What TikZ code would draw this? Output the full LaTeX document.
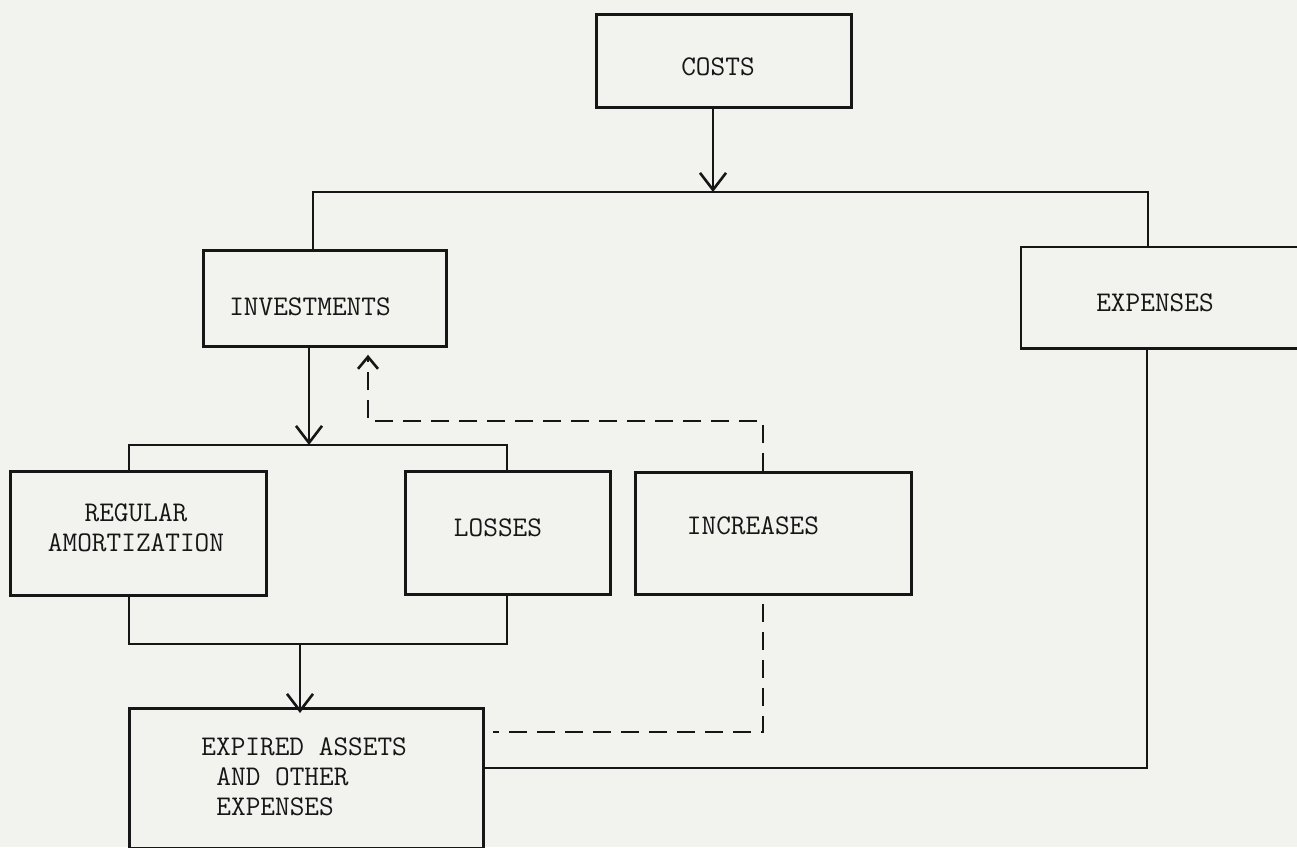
\documentclass[tikz,border=0pt]{standalone}
\usepackage{fontspec}
\usetikzlibrary{arrows.meta}
\definecolor{paper}{RGB}{242,242,239}
\definecolor{ink}{RGB}{22,22,22}
\begin{document}
\begin{tikzpicture}[x=1pt,y=-1pt, line width=2.8pt, color=ink,
  ln/.style={line width=2.8pt, draw=ink},
  box/.style={draw=ink, line width=2.8pt, inner sep=0pt, anchor=north west},
  openbox/.style={draw=none, inner sep=0pt, anchor=north west},
  lbl/.style={inner sep=0pt, text=ink, font=\ttfamily\fontsize{28.5}{30}\selectfont\addfontfeatures{FakeBold=1.1}},
  arr/.style={ln, -{Straight Barb[length=17pt,width=26pt,line width=2.6pt]}},
  darr/.style={ln, dash pattern=on 18pt off 10pt, -{Straight Barb[length=12pt,width=20pt,line width=2.6pt]}},
  dsh/.style={ln, dash pattern=on 18pt off 10pt}
]
\useasboundingbox (0,0) rectangle (1297,847);
\fill[paper] (0,0) rectangle (1297,847);

% boxes
\node[box, minimum width=255pt, minimum height=93pt] (costs) at (595,13) {};
\node[box, minimum width=243pt, minimum height=96pt] (inv) at (202,249) {};
\node[openbox, minimum width=282pt, minimum height=99pt] (exps) at (1021,247) {};
\draw[ln] (exps.north east) -- (exps.north west) -- (exps.south west) -- (exps.south east);
\node[box, minimum width=256pt, minimum height=124pt] (reg) at (9,470) {};
\node[box, minimum width=205pt, minimum height=123pt] (los) at (404,470) {};
\node[box, minimum width=276pt, minimum height=122pt] (inc) at (634,471) {};
\node[box, minimum width=354pt, minimum height=140pt] (expd) at (128,707) {};

% labels
\node[lbl] (costsT) at (718,67) {COSTS};
\node[lbl] (invT) at (310,307) {INVESTMENTS};
\node[lbl] (expsT) at (1155,303) {EXPENSES};
\node[lbl, align=center] (regT) at (136,528) {REGULAR\\AMORTIZATION};
\node[lbl] (losT) at (498,528) {LOSSES};
\node[lbl] (incT) at (753,526) {INCREASES};
\node[lbl, align=left, anchor=west] (expdT) at (200,777) {EXPIRED ASSETS\\\hspace*{15pt}AND OTHER\\\hspace*{15pt}EXPENSES};

% coordinates
\coordinate (b1L) at (313,192);
\coordinate (b1R) at (1148,192);
\coordinate (c1) at (713,192);
\coordinate (b2L) at (129,445);
\coordinate (b2R) at (507,445);
\coordinate (c2) at (309,445);
\coordinate (b3L) at (129,644);
\coordinate (b3R) at (507,644);
\coordinate (c3) at (300,644);
\coordinate (e1) at (1147,768);
\coordinate (d1) at (763,421);
\coordinate (d2) at (368,421);
\coordinate (d3) at (763,732);
\coordinate (d4) at (493,732);

% solid connectors
\draw[arr] (costs.south -| c1) -- (c1);
\draw[ln] (inv.north -| b1L) -- (b1L) -- (b1R) -- (exps.north -| b1R);
\draw[arr] (inv.south -| c2) -- (c2);
\draw[ln] (reg.north -| b2L) -- (b2L) -- (b2R) -- (los.north -| b2R);
\draw[ln] (reg.south -| b3L) -- (b3L) -- (b3R) -- (los.south -| b3R);
\draw[arr] (c3) -- ([yshift=-6pt]expd.north -| c3);
\draw[ln] (expd.east |- e1) -- (e1) -- (exps.south -| e1);

% dashed connectors
\draw[darr, shorten >=7pt] (inc.north -| d1) -- (d1) -- (d2) -- (inv.south -| d2);
\draw[dsh, shorten <=8pt] (inc.south -| d3) -- (d3) -- (d4);
\end{tikzpicture}
\end{document}
